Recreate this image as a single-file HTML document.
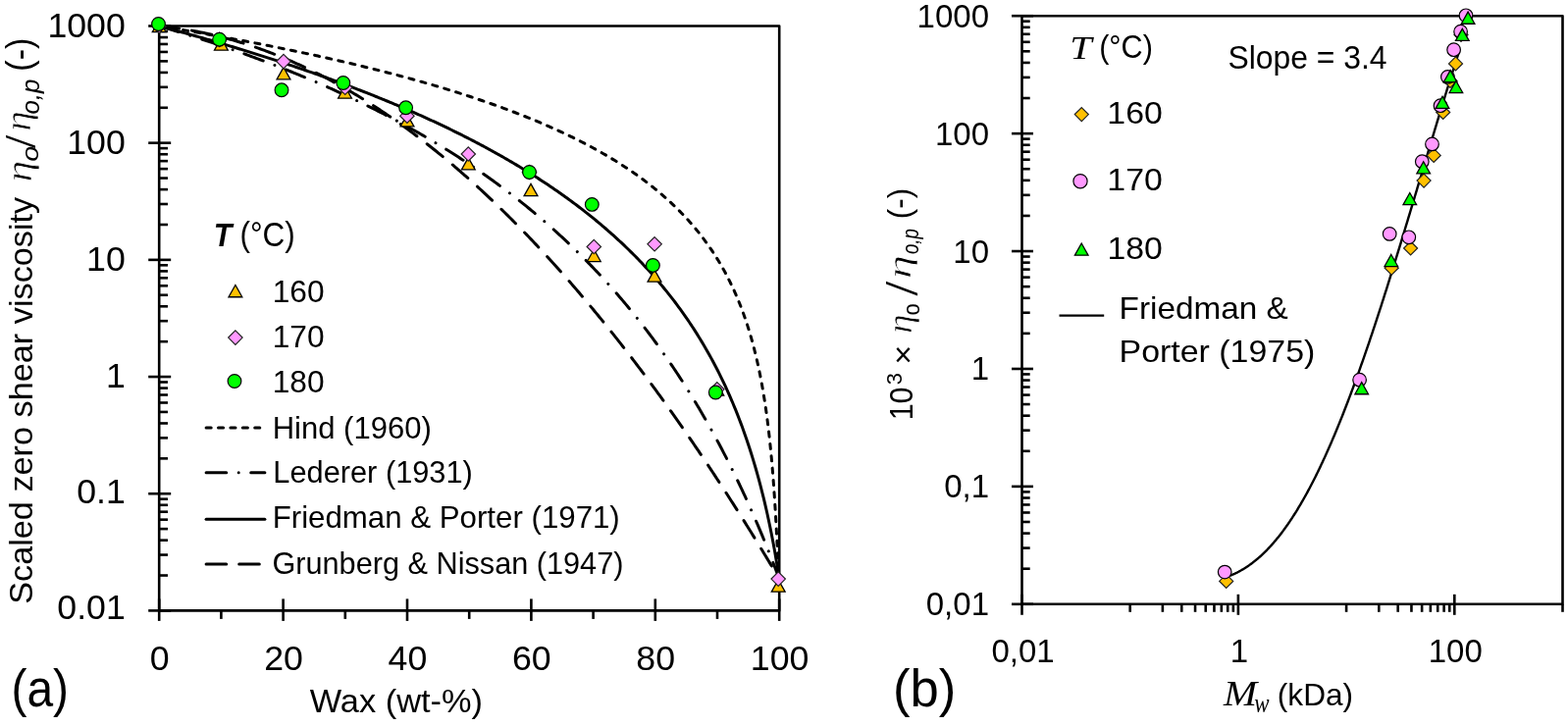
<!DOCTYPE html>
<html><head><meta charset="utf-8"><title>Viscosity plots</title>
<style>html,body{margin:0;padding:0;background:#fff;overflow:hidden} svg{display:block} text{fill:#000}</style>
</head><body>
<svg width="1598" height="740" viewBox="0 0 1598 740">
<rect width="1598" height="740" fill="#fff"/>
<rect x="162.2" y="26.5" width="632.00" height="595.90" fill="none" stroke="#000" stroke-width="2.6" stroke-linejoin="round"/>
<line x1="151.20" y1="622.40" x2="174.20" y2="622.40" stroke="#000" stroke-width="2.6" />
<line x1="162.20" y1="586.52" x2="171.00" y2="586.52" stroke="#000" stroke-width="2.6" />
<line x1="162.20" y1="565.54" x2="171.00" y2="565.54" stroke="#000" stroke-width="2.6" />
<line x1="162.20" y1="550.65" x2="171.00" y2="550.65" stroke="#000" stroke-width="2.6" />
<line x1="162.20" y1="539.10" x2="171.00" y2="539.10" stroke="#000" stroke-width="2.6" />
<line x1="162.20" y1="529.66" x2="171.00" y2="529.66" stroke="#000" stroke-width="2.6" />
<line x1="162.20" y1="521.68" x2="171.00" y2="521.68" stroke="#000" stroke-width="2.6" />
<line x1="162.20" y1="514.77" x2="171.00" y2="514.77" stroke="#000" stroke-width="2.6" />
<line x1="162.20" y1="508.67" x2="171.00" y2="508.67" stroke="#000" stroke-width="2.6" />
<line x1="151.20" y1="503.22" x2="174.20" y2="503.22" stroke="#000" stroke-width="2.6" />
<line x1="162.20" y1="467.34" x2="171.00" y2="467.34" stroke="#000" stroke-width="2.6" />
<line x1="162.20" y1="446.36" x2="171.00" y2="446.36" stroke="#000" stroke-width="2.6" />
<line x1="162.20" y1="431.47" x2="171.00" y2="431.47" stroke="#000" stroke-width="2.6" />
<line x1="162.20" y1="419.92" x2="171.00" y2="419.92" stroke="#000" stroke-width="2.6" />
<line x1="162.20" y1="410.48" x2="171.00" y2="410.48" stroke="#000" stroke-width="2.6" />
<line x1="162.20" y1="402.50" x2="171.00" y2="402.50" stroke="#000" stroke-width="2.6" />
<line x1="162.20" y1="395.59" x2="171.00" y2="395.59" stroke="#000" stroke-width="2.6" />
<line x1="162.20" y1="389.49" x2="171.00" y2="389.49" stroke="#000" stroke-width="2.6" />
<line x1="151.20" y1="384.04" x2="174.20" y2="384.04" stroke="#000" stroke-width="2.6" />
<line x1="162.20" y1="348.16" x2="171.00" y2="348.16" stroke="#000" stroke-width="2.6" />
<line x1="162.20" y1="327.18" x2="171.00" y2="327.18" stroke="#000" stroke-width="2.6" />
<line x1="162.20" y1="312.29" x2="171.00" y2="312.29" stroke="#000" stroke-width="2.6" />
<line x1="162.20" y1="300.74" x2="171.00" y2="300.74" stroke="#000" stroke-width="2.6" />
<line x1="162.20" y1="291.30" x2="171.00" y2="291.30" stroke="#000" stroke-width="2.6" />
<line x1="162.20" y1="283.32" x2="171.00" y2="283.32" stroke="#000" stroke-width="2.6" />
<line x1="162.20" y1="276.41" x2="171.00" y2="276.41" stroke="#000" stroke-width="2.6" />
<line x1="162.20" y1="270.31" x2="171.00" y2="270.31" stroke="#000" stroke-width="2.6" />
<line x1="151.20" y1="264.86" x2="174.20" y2="264.86" stroke="#000" stroke-width="2.6" />
<line x1="162.20" y1="228.98" x2="171.00" y2="228.98" stroke="#000" stroke-width="2.6" />
<line x1="162.20" y1="208.00" x2="171.00" y2="208.00" stroke="#000" stroke-width="2.6" />
<line x1="162.20" y1="193.11" x2="171.00" y2="193.11" stroke="#000" stroke-width="2.6" />
<line x1="162.20" y1="181.56" x2="171.00" y2="181.56" stroke="#000" stroke-width="2.6" />
<line x1="162.20" y1="172.12" x2="171.00" y2="172.12" stroke="#000" stroke-width="2.6" />
<line x1="162.20" y1="164.14" x2="171.00" y2="164.14" stroke="#000" stroke-width="2.6" />
<line x1="162.20" y1="157.23" x2="171.00" y2="157.23" stroke="#000" stroke-width="2.6" />
<line x1="162.20" y1="151.13" x2="171.00" y2="151.13" stroke="#000" stroke-width="2.6" />
<line x1="151.20" y1="145.68" x2="174.20" y2="145.68" stroke="#000" stroke-width="2.6" />
<line x1="162.20" y1="109.80" x2="171.00" y2="109.80" stroke="#000" stroke-width="2.6" />
<line x1="162.20" y1="88.82" x2="171.00" y2="88.82" stroke="#000" stroke-width="2.6" />
<line x1="162.20" y1="73.93" x2="171.00" y2="73.93" stroke="#000" stroke-width="2.6" />
<line x1="162.20" y1="62.38" x2="171.00" y2="62.38" stroke="#000" stroke-width="2.6" />
<line x1="162.20" y1="52.94" x2="171.00" y2="52.94" stroke="#000" stroke-width="2.6" />
<line x1="162.20" y1="44.96" x2="171.00" y2="44.96" stroke="#000" stroke-width="2.6" />
<line x1="162.20" y1="38.05" x2="171.00" y2="38.05" stroke="#000" stroke-width="2.6" />
<line x1="162.20" y1="31.95" x2="171.00" y2="31.95" stroke="#000" stroke-width="2.6" />
<line x1="151.20" y1="26.50" x2="174.20" y2="26.50" stroke="#000" stroke-width="2.6" />
<line x1="162.20" y1="610.40" x2="162.20" y2="632.90" stroke="#000" stroke-width="2.6" />
<line x1="288.60" y1="610.40" x2="288.60" y2="632.90" stroke="#000" stroke-width="2.6" />
<line x1="415.00" y1="610.40" x2="415.00" y2="632.90" stroke="#000" stroke-width="2.6" />
<line x1="541.40" y1="610.40" x2="541.40" y2="632.90" stroke="#000" stroke-width="2.6" />
<line x1="667.80" y1="610.40" x2="667.80" y2="632.90" stroke="#000" stroke-width="2.6" />
<line x1="794.20" y1="610.40" x2="794.20" y2="632.90" stroke="#000" stroke-width="2.6" />
<line x1="225.40" y1="622.40" x2="225.40" y2="630.90" stroke="#000" stroke-width="2.6" />
<line x1="351.80" y1="622.40" x2="351.80" y2="630.90" stroke="#000" stroke-width="2.6" />
<line x1="478.20" y1="622.40" x2="478.20" y2="630.90" stroke="#000" stroke-width="2.6" />
<line x1="604.60" y1="622.40" x2="604.60" y2="630.90" stroke="#000" stroke-width="2.6" />
<line x1="731.00" y1="622.40" x2="731.00" y2="630.90" stroke="#000" stroke-width="2.6" />
<rect x="1041.5" y="16.2" width="551.00" height="599.60" fill="none" stroke="#000" stroke-width="2.6" stroke-linejoin="round"/>
<line x1="1031.00" y1="615.80" x2="1053.00" y2="615.80" stroke="#000" stroke-width="2.6" />
<line x1="1041.50" y1="579.70" x2="1049.70" y2="579.70" stroke="#000" stroke-width="2.6" />
<line x1="1041.50" y1="558.58" x2="1049.70" y2="558.58" stroke="#000" stroke-width="2.6" />
<line x1="1041.50" y1="543.60" x2="1049.70" y2="543.60" stroke="#000" stroke-width="2.6" />
<line x1="1041.50" y1="531.98" x2="1049.70" y2="531.98" stroke="#000" stroke-width="2.6" />
<line x1="1041.50" y1="522.48" x2="1049.70" y2="522.48" stroke="#000" stroke-width="2.6" />
<line x1="1041.50" y1="514.46" x2="1049.70" y2="514.46" stroke="#000" stroke-width="2.6" />
<line x1="1041.50" y1="507.50" x2="1049.70" y2="507.50" stroke="#000" stroke-width="2.6" />
<line x1="1041.50" y1="501.37" x2="1049.70" y2="501.37" stroke="#000" stroke-width="2.6" />
<line x1="1031.00" y1="495.88" x2="1053.00" y2="495.88" stroke="#000" stroke-width="2.6" />
<line x1="1041.50" y1="459.78" x2="1049.70" y2="459.78" stroke="#000" stroke-width="2.6" />
<line x1="1041.50" y1="438.66" x2="1049.70" y2="438.66" stroke="#000" stroke-width="2.6" />
<line x1="1041.50" y1="423.68" x2="1049.70" y2="423.68" stroke="#000" stroke-width="2.6" />
<line x1="1041.50" y1="412.06" x2="1049.70" y2="412.06" stroke="#000" stroke-width="2.6" />
<line x1="1041.50" y1="402.56" x2="1049.70" y2="402.56" stroke="#000" stroke-width="2.6" />
<line x1="1041.50" y1="394.54" x2="1049.70" y2="394.54" stroke="#000" stroke-width="2.6" />
<line x1="1041.50" y1="387.58" x2="1049.70" y2="387.58" stroke="#000" stroke-width="2.6" />
<line x1="1041.50" y1="381.45" x2="1049.70" y2="381.45" stroke="#000" stroke-width="2.6" />
<line x1="1031.00" y1="375.96" x2="1053.00" y2="375.96" stroke="#000" stroke-width="2.6" />
<line x1="1041.50" y1="339.86" x2="1049.70" y2="339.86" stroke="#000" stroke-width="2.6" />
<line x1="1041.50" y1="318.74" x2="1049.70" y2="318.74" stroke="#000" stroke-width="2.6" />
<line x1="1041.50" y1="303.76" x2="1049.70" y2="303.76" stroke="#000" stroke-width="2.6" />
<line x1="1041.50" y1="292.14" x2="1049.70" y2="292.14" stroke="#000" stroke-width="2.6" />
<line x1="1041.50" y1="282.64" x2="1049.70" y2="282.64" stroke="#000" stroke-width="2.6" />
<line x1="1041.50" y1="274.62" x2="1049.70" y2="274.62" stroke="#000" stroke-width="2.6" />
<line x1="1041.50" y1="267.66" x2="1049.70" y2="267.66" stroke="#000" stroke-width="2.6" />
<line x1="1041.50" y1="261.53" x2="1049.70" y2="261.53" stroke="#000" stroke-width="2.6" />
<line x1="1031.00" y1="256.04" x2="1053.00" y2="256.04" stroke="#000" stroke-width="2.6" />
<line x1="1041.50" y1="219.94" x2="1049.70" y2="219.94" stroke="#000" stroke-width="2.6" />
<line x1="1041.50" y1="198.82" x2="1049.70" y2="198.82" stroke="#000" stroke-width="2.6" />
<line x1="1041.50" y1="183.84" x2="1049.70" y2="183.84" stroke="#000" stroke-width="2.6" />
<line x1="1041.50" y1="172.22" x2="1049.70" y2="172.22" stroke="#000" stroke-width="2.6" />
<line x1="1041.50" y1="162.72" x2="1049.70" y2="162.72" stroke="#000" stroke-width="2.6" />
<line x1="1041.50" y1="154.70" x2="1049.70" y2="154.70" stroke="#000" stroke-width="2.6" />
<line x1="1041.50" y1="147.74" x2="1049.70" y2="147.74" stroke="#000" stroke-width="2.6" />
<line x1="1041.50" y1="141.61" x2="1049.70" y2="141.61" stroke="#000" stroke-width="2.6" />
<line x1="1031.00" y1="136.12" x2="1053.00" y2="136.12" stroke="#000" stroke-width="2.6" />
<line x1="1041.50" y1="100.02" x2="1049.70" y2="100.02" stroke="#000" stroke-width="2.6" />
<line x1="1041.50" y1="78.90" x2="1049.70" y2="78.90" stroke="#000" stroke-width="2.6" />
<line x1="1041.50" y1="63.92" x2="1049.70" y2="63.92" stroke="#000" stroke-width="2.6" />
<line x1="1041.50" y1="52.30" x2="1049.70" y2="52.30" stroke="#000" stroke-width="2.6" />
<line x1="1041.50" y1="42.80" x2="1049.70" y2="42.80" stroke="#000" stroke-width="2.6" />
<line x1="1041.50" y1="34.78" x2="1049.70" y2="34.78" stroke="#000" stroke-width="2.6" />
<line x1="1041.50" y1="27.82" x2="1049.70" y2="27.82" stroke="#000" stroke-width="2.6" />
<line x1="1041.50" y1="21.69" x2="1049.70" y2="21.69" stroke="#000" stroke-width="2.6" />
<line x1="1031.00" y1="16.20" x2="1053.00" y2="16.20" stroke="#000" stroke-width="2.6" />
<line x1="1041.50" y1="605.80" x2="1041.50" y2="626.80" stroke="#000" stroke-width="2.6" />
<line x1="1261.90" y1="605.80" x2="1261.90" y2="626.80" stroke="#000" stroke-width="2.6" />
<line x1="1482.30" y1="605.80" x2="1482.30" y2="626.80" stroke="#000" stroke-width="2.6" />
<line x1="1151.70" y1="615.80" x2="1151.70" y2="623.80" stroke="#000" stroke-width="2.6" />
<line x1="1184.87" y1="615.80" x2="1184.87" y2="623.80" stroke="#000" stroke-width="2.6" />
<line x1="1204.28" y1="615.80" x2="1204.28" y2="623.80" stroke="#000" stroke-width="2.6" />
<line x1="1218.05" y1="615.80" x2="1218.05" y2="623.80" stroke="#000" stroke-width="2.6" />
<line x1="1228.73" y1="615.80" x2="1228.73" y2="623.80" stroke="#000" stroke-width="2.6" />
<line x1="1237.45" y1="615.80" x2="1237.45" y2="623.80" stroke="#000" stroke-width="2.6" />
<line x1="1244.83" y1="615.80" x2="1244.83" y2="623.80" stroke="#000" stroke-width="2.6" />
<line x1="1251.22" y1="615.80" x2="1251.22" y2="623.80" stroke="#000" stroke-width="2.6" />
<line x1="1256.86" y1="615.80" x2="1256.86" y2="623.80" stroke="#000" stroke-width="2.6" />
<line x1="1372.10" y1="615.80" x2="1372.10" y2="623.80" stroke="#000" stroke-width="2.6" />
<line x1="1405.27" y1="615.80" x2="1405.27" y2="623.80" stroke="#000" stroke-width="2.6" />
<line x1="1424.68" y1="615.80" x2="1424.68" y2="623.80" stroke="#000" stroke-width="2.6" />
<line x1="1438.45" y1="615.80" x2="1438.45" y2="623.80" stroke="#000" stroke-width="2.6" />
<line x1="1449.13" y1="615.80" x2="1449.13" y2="623.80" stroke="#000" stroke-width="2.6" />
<line x1="1457.85" y1="615.80" x2="1457.85" y2="623.80" stroke="#000" stroke-width="2.6" />
<line x1="1465.23" y1="615.80" x2="1465.23" y2="623.80" stroke="#000" stroke-width="2.6" />
<line x1="1471.62" y1="615.80" x2="1471.62" y2="623.80" stroke="#000" stroke-width="2.6" />
<line x1="1477.26" y1="615.80" x2="1477.26" y2="623.80" stroke="#000" stroke-width="2.6" />
<line x1="1592.50" y1="615.80" x2="1592.50" y2="623.80" stroke="#000" stroke-width="2.6" />
<path d="M162.20,26.50 L165.36,27.02 L168.50,27.54 L171.64,28.06 L174.78,28.58 L177.90,29.10 L181.02,29.63 L184.13,30.15 L187.23,30.68 L190.32,31.21 L193.41,31.74 L196.48,32.27 L199.55,32.80 L202.61,33.33 L205.67,33.87 L208.71,34.40 L211.75,34.94 L214.78,35.48 L217.80,36.02 L220.81,36.56 L223.82,37.11 L226.82,37.65 L229.81,38.20 L232.79,38.75 L235.76,39.30 L238.73,39.85 L241.69,40.40 L244.64,40.95 L247.58,41.51 L250.52,42.07 L253.44,42.62 L256.36,43.18 L259.28,43.74 L262.18,44.31 L265.07,44.87 L267.96,45.44 L270.84,46.00 L273.71,46.57 L276.58,47.14 L279.43,47.72 L282.28,48.29 L285.12,48.86 L287.95,49.44 L290.78,50.02 L293.59,50.60 L296.40,51.18 L299.20,51.76 L301.99,52.35 L304.78,52.94 L307.56,53.52 L310.32,54.11 L313.09,54.71 L315.84,55.30 L318.58,55.89 L321.32,56.49 L324.05,57.09 L326.77,57.69 L329.49,58.29 L332.19,58.89 L334.89,59.50 L337.58,60.11 L340.26,60.72 L342.94,61.33 L345.60,61.94 L348.26,62.55 L350.91,63.17 L353.55,63.79 L356.19,64.41 L358.82,65.03 L361.43,65.65 L364.05,66.28 L366.65,66.91 L369.24,67.54 L371.83,68.17 L374.41,68.80 L376.98,69.44 L379.54,70.07 L382.10,70.71 L384.65,71.35 L387.19,72.00 L389.72,72.64 L392.24,73.29 L394.76,73.94 L397.27,74.59 L399.77,75.24 L402.26,75.90 L404.75,76.55 L407.22,77.21 L409.69,77.87 L412.15,78.54 L414.60,79.20 L417.05,79.87 L419.49,80.54 L421.92,81.21 L424.34,81.89 L426.75,82.56 L429.16,83.24 L431.55,83.92 L433.94,84.61 L436.33,85.29 L438.70,85.98 L441.07,86.67 L443.42,87.36 L445.77,88.06 L448.12,88.75 L450.45,89.45 L452.78,90.15 L455.10,90.86 L457.41,91.57 L459.71,92.27 L462.00,92.99 L464.29,93.70 L466.57,94.42 L468.84,95.13 L471.11,95.86 L473.36,96.58 L475.61,97.31 L477.85,98.03 L480.08,98.77 L482.30,99.50 L484.52,100.24 L486.73,100.98 L488.93,101.72 L491.12,102.46 L493.30,103.21 L495.48,103.96 L497.65,104.71 L499.81,105.47 L501.96,106.22 L504.11,106.99 L506.24,107.75 L508.37,108.52 L510.50,109.29 L512.61,110.06 L514.71,110.83 L516.81,111.61 L518.90,112.39 L520.98,113.18 L523.06,113.96 L525.12,114.75 L527.18,115.54 L529.23,116.34 L531.27,117.14 L533.31,117.94 L535.33,118.75 L537.35,119.56 L539.36,120.37 L541.36,121.18 L543.36,122.00 L545.35,122.82 L547.33,123.64 L549.30,124.47 L551.26,125.30 L553.21,126.14 L555.16,126.97 L557.10,127.82 L559.03,128.66 L560.96,129.51 L562.87,130.36 L564.78,131.21 L566.68,132.07 L568.57,132.93 L570.46,133.80 L572.33,134.67 L574.20,135.54 L576.06,136.42 L577.91,137.30 L579.76,138.18 L581.60,139.07 L583.42,139.96 L585.25,140.86 L587.06,141.76 L588.86,142.66 L590.66,143.57 L592.45,144.48 L594.23,145.39 L596.00,146.31 L597.77,147.24 L599.53,148.16 L601.28,149.10 L603.02,150.03 L604.75,150.97 L606.48,151.92 L608.20,152.86 L609.91,153.82 L611.61,154.77 L613.31,155.74 L614.99,156.70 L616.67,157.67 L618.34,158.65 L620.00,159.63 L621.66,160.61 L623.31,161.60 L624.95,162.60 L626.58,163.59 L628.20,164.60 L629.82,165.61 L631.42,166.62 L633.02,167.64 L634.62,168.66 L636.20,169.69 L637.78,170.72 L639.34,171.76 L640.90,172.80 L642.46,173.85 L644.00,174.91 L645.54,175.97 L647.07,177.03 L648.59,178.10 L650.10,179.18 L651.61,180.26 L653.10,181.35 L654.59,182.44 L656.07,183.54 L657.55,184.65 L659.01,185.76 L660.47,186.87 L661.92,188.00 L663.36,189.12 L664.79,190.26 L666.22,191.40 L667.64,192.55 L669.05,193.70 L670.45,194.86 L671.84,196.03 L673.23,197.20 L674.61,198.38 L675.98,199.57 L677.34,200.76 L678.70,201.96 L680.05,203.17 L681.38,204.38 L682.72,205.60 L684.04,206.83 L685.35,208.07 L686.66,209.31 L687.96,210.56 L689.25,211.82 L690.54,213.08 L691.81,214.36 L693.08,215.64 L694.34,216.93 L695.59,218.23 L696.84,219.53 L698.07,220.84 L699.30,222.17 L700.52,223.50 L701.73,224.83 L702.94,226.18 L704.14,227.54 L705.33,228.90 L706.51,230.28 L707.68,231.66 L708.84,233.05 L710.00,234.45 L711.15,235.87 L712.29,237.29 L713.43,238.72 L714.55,240.16 L715.67,241.61 L716.78,243.07 L717.88,244.54 L718.98,246.02 L720.06,247.51 L721.14,249.01 L722.21,250.52 L723.27,252.05 L724.33,253.58 L725.38,255.13 L726.41,256.69 L727.44,258.26 L728.47,259.84 L729.48,261.43 L730.49,263.04 L731.49,264.66 L732.48,266.29 L733.46,267.93 L734.44,269.59 L735.41,271.25 L736.37,272.94 L737.32,274.63 L738.26,276.34 L739.20,278.07 L740.13,279.81 L741.05,281.56 L741.96,283.33 L742.87,285.11 L743.76,286.90 L744.65,288.72 L745.53,290.55 L746.40,292.39 L747.27,294.25 L748.13,296.13 L748.98,298.02 L749.82,299.93 L750.65,301.86 L751.48,303.81 L752.29,305.77 L753.10,307.75 L753.91,309.75 L754.70,311.77 L755.49,313.81 L756.26,315.87 L757.03,317.95 L757.80,320.05 L758.55,322.17 L759.30,324.31 L760.04,326.47 L760.77,328.66 L761.49,330.86 L762.20,333.09 L762.91,335.35 L763.61,337.63 L764.30,339.93 L764.99,342.25 L765.66,344.60 L766.33,346.98 L766.99,349.38 L767.64,351.81 L768.28,354.27 L768.92,356.76 L769.55,359.27 L770.17,361.81 L770.78,364.39 L771.38,366.99 L771.98,369.62 L772.57,372.29 L773.15,374.99 L773.72,377.72 L774.29,380.48 L774.85,383.28 L775.39,386.11 L775.94,388.98 L776.47,391.89 L776.99,394.83 L777.51,397.81 L778.02,400.83 L778.52,403.89 L779.02,406.99 L779.50,410.13 L779.98,413.31 L780.45,416.53 L780.91,419.80 L781.37,423.11 L781.81,426.47 L782.25,429.87 L782.68,433.32 L783.10,436.81 L783.52,440.35 L783.93,443.94 L784.33,447.57 L784.72,451.26 L785.10,454.99 L785.47,458.77 L785.84,462.60 L786.20,466.47 L786.55,470.39 L786.90,474.35 L787.23,478.36 L787.56,482.41 L787.88,486.50 L788.19,490.63 L788.50,494.78 L788.79,498.97 L789.08,503.18 L789.36,507.41 L789.63,511.65 L789.90,515.89 L790.16,520.12 L790.40,524.34 L790.64,528.54 L790.88,532.69 L791.10,536.79 L791.32,540.82 L791.53,544.77 L791.73,548.62 L791.92,552.36 L792.11,555.96 L792.29,559.41 L792.46,562.70 L792.62,565.81 L792.77,568.72 L792.92,571.44 L793.06,573.95 L793.19,576.24 L793.31,578.32 L793.43,580.19 L793.53,581.86 L793.63,583.33 L793.72,584.61 L793.81,585.71 L793.88,586.65 L793.95,587.45 L794.01,588.11 L794.06,588.66 L794.10,589.09 L794.14,589.43 L794.16,589.69 L794.18,589.86 L794.20,589.97 L794.20,590.00" fill="none" stroke="#000" stroke-width="3.0" stroke-dasharray="5.1 7.3" stroke-linecap="round"/><path d="M162.20,26.50 L163.78,26.97 L165.36,27.44 L166.94,27.92 L168.52,28.39 L170.10,28.87 L171.68,29.35 L173.26,29.83 L174.84,30.31 L176.42,30.79 L178.00,31.28 L179.58,31.76 L181.16,32.25 L182.74,32.74 L184.32,33.23 L185.90,33.72 L187.48,34.22 L189.06,34.72 L190.64,35.21 L192.22,35.71 L193.80,36.22 L195.38,36.72 L196.96,37.22 L198.54,37.73 L200.12,38.24 L201.70,38.75 L203.28,39.26 L204.86,39.78 L206.44,40.29 L208.02,40.81 L209.60,41.33 L211.18,41.85 L212.76,42.37 L214.34,42.90 L215.92,43.42 L217.50,43.95 L219.08,44.48 L220.66,45.02 L222.24,45.55 L223.82,46.09 L225.40,46.63 L226.98,47.17 L228.56,47.71 L230.14,48.25 L231.72,48.80 L233.30,49.34 L234.88,49.89 L236.46,50.45 L238.04,51.00 L239.62,51.56 L241.20,52.11 L242.78,52.67 L244.36,53.24 L245.94,53.80 L247.52,54.37 L249.10,54.93 L250.68,55.50 L252.26,56.08 L253.84,56.65 L255.42,57.23 L257.00,57.81 L258.58,58.39 L260.16,58.97 L261.74,59.55 L263.32,60.14 L264.90,60.73 L266.48,61.32 L268.06,61.92 L269.64,62.51 L271.22,63.11 L272.80,63.71 L274.38,64.32 L275.96,64.92 L277.54,65.53 L279.12,66.14 L280.70,66.75 L282.28,67.36 L283.86,67.98 L285.44,68.60 L287.02,69.22 L288.60,69.85 L290.18,70.47 L291.76,71.10 L293.34,71.73 L294.92,72.37 L296.50,73.00 L298.08,73.64 L299.66,74.28 L301.24,74.93 L302.82,75.57 L304.40,76.22 L305.98,76.87 L307.56,77.53 L309.14,78.18 L310.72,78.84 L312.30,79.50 L313.88,80.17 L315.46,80.83 L317.04,81.50 L318.62,82.18 L320.20,82.85 L321.78,83.53 L323.36,84.21 L324.94,84.89 L326.52,85.58 L328.10,86.27 L329.68,86.96 L331.26,87.65 L332.84,88.35 L334.42,89.05 L336.00,89.75 L337.58,90.46 L339.16,91.16 L340.74,91.88 L342.32,92.59 L343.90,93.31 L345.48,94.03 L347.06,94.75 L348.64,95.48 L350.22,96.21 L351.80,96.94 L353.38,97.67 L354.96,98.41 L356.54,99.15 L358.12,99.90 L359.70,100.64 L361.28,101.40 L362.86,102.15 L364.44,102.91 L366.02,103.67 L367.60,104.43 L369.18,105.20 L370.76,105.97 L372.34,106.74 L373.92,107.52 L375.50,108.30 L377.08,109.08 L378.66,109.87 L380.24,110.66 L381.82,111.45 L383.40,112.25 L384.98,113.05 L386.56,113.86 L388.14,114.66 L389.72,115.47 L391.30,116.29 L392.88,117.11 L394.46,117.93 L396.04,118.75 L397.62,119.58 L399.20,120.42 L400.78,121.25 L402.36,122.09 L403.94,122.94 L405.52,123.79 L407.10,124.64 L408.68,125.49 L410.26,126.35 L411.84,127.22 L413.42,128.08 L415.00,128.95 L416.58,129.83 L418.16,130.71 L419.74,131.59 L421.32,132.48 L422.90,133.37 L424.48,134.27 L426.06,135.17 L427.64,136.07 L429.22,136.98 L430.80,137.89 L432.38,138.81 L433.96,139.73 L435.54,140.65 L437.12,141.58 L438.70,142.52 L440.28,143.45 L441.86,144.40 L443.44,145.34 L445.02,146.29 L446.60,147.25 L448.18,148.21 L449.76,149.18 L451.34,150.15 L452.92,151.12 L454.50,152.10 L456.08,153.08 L457.66,154.07 L459.24,155.07 L460.82,156.06 L462.40,157.07 L463.98,158.08 L465.56,159.09 L467.14,160.11 L468.72,161.13 L470.30,162.16 L471.88,163.19 L473.46,164.23 L475.04,165.27 L476.62,166.32 L478.20,167.38 L479.78,168.43 L481.36,169.50 L482.94,170.57 L484.52,171.64 L486.10,172.73 L487.68,173.81 L489.26,174.90 L490.84,176.00 L492.42,177.10 L494.00,178.21 L495.58,179.33 L497.16,180.45 L498.74,181.57 L500.32,182.70 L501.90,183.84 L503.48,184.98 L505.06,186.13 L506.64,187.29 L508.22,188.45 L509.80,189.62 L511.38,190.79 L512.96,191.97 L514.54,193.16 L516.12,194.35 L517.70,195.55 L519.28,196.76 L520.86,197.97 L522.44,199.19 L524.02,200.41 L525.60,201.64 L527.18,202.88 L528.76,204.13 L530.34,205.38 L531.92,206.64 L533.50,207.90 L535.08,209.17 L536.66,210.45 L538.24,211.74 L539.82,213.03 L541.40,214.33 L542.98,215.64 L544.56,216.96 L546.14,218.28 L547.72,219.61 L549.30,220.95 L550.88,222.29 L552.46,223.65 L554.04,225.01 L555.62,226.37 L557.20,227.75 L558.78,229.13 L560.36,230.53 L561.94,231.93 L563.52,233.33 L565.10,234.75 L566.68,236.18 L568.26,237.61 L569.84,239.05 L571.42,240.50 L573.00,241.96 L574.58,243.42 L576.16,244.90 L577.74,246.38 L579.32,247.88 L580.90,249.38 L582.48,250.89 L584.06,252.41 L585.64,253.94 L587.22,255.48 L588.80,257.02 L590.38,258.58 L591.96,260.15 L593.54,261.72 L595.12,263.31 L596.70,264.90 L598.28,266.51 L599.86,268.13 L601.44,269.75 L603.02,271.39 L604.60,273.03 L606.18,274.69 L607.76,276.35 L609.34,278.03 L610.92,279.72 L612.50,281.42 L614.08,283.13 L615.66,284.85 L617.24,286.58 L618.82,288.32 L620.40,290.07 L621.98,291.84 L623.56,293.61 L625.14,295.40 L626.72,297.20 L628.30,299.01 L629.88,300.84 L631.46,302.67 L633.04,304.52 L634.62,306.38 L636.20,308.25 L637.78,310.14 L639.36,312.03 L640.94,313.94 L642.52,315.87 L644.10,317.80 L645.68,319.75 L647.26,321.71 L648.84,323.69 L650.42,325.68 L652.00,327.68 L653.58,329.70 L655.16,331.73 L656.74,333.78 L658.32,335.83 L659.90,337.91 L661.48,340.00 L663.06,342.10 L664.64,344.22 L666.22,346.35 L667.80,348.50 L669.38,350.67 L670.96,352.84 L672.54,355.04 L674.12,357.25 L675.70,359.48 L677.28,361.72 L678.86,363.98 L680.44,366.26 L682.02,368.55 L683.60,370.86 L685.18,373.19 L686.76,375.53 L688.34,377.90 L689.92,380.28 L691.50,382.68 L693.08,385.09 L694.66,387.53 L696.24,389.98 L697.82,392.45 L699.40,394.94 L700.98,397.45 L702.56,399.98 L704.14,402.53 L705.72,405.10 L707.30,407.69 L708.88,410.30 L710.46,412.93 L712.04,415.58 L713.62,418.26 L715.20,420.95 L716.78,423.67 L718.36,426.40 L719.94,429.16 L721.52,431.95 L723.10,434.75 L724.68,437.58 L726.26,440.43 L727.84,443.31 L729.42,446.20 L731.00,449.13 L732.58,452.07 L734.16,455.05 L735.74,458.04 L737.32,461.07 L738.90,464.11 L740.48,467.19 L742.06,470.29 L743.64,473.42 L745.22,476.57 L746.80,479.75 L748.38,482.96 L749.96,486.20 L751.54,489.47 L753.12,492.76 L754.70,496.08 L756.28,499.44 L757.86,502.82 L759.44,506.24 L761.02,509.68 L762.60,513.16 L764.18,516.67 L765.76,520.21 L767.34,523.78 L768.92,527.39 L770.50,531.03 L772.08,534.71 L773.66,538.41 L775.24,542.16 L776.82,545.94 L778.40,549.75 L779.98,553.60 L781.56,557.49 L783.14,561.42 L784.72,565.38 L786.30,569.39 L787.88,573.43 L789.46,577.51 L791.04,581.63 L792.62,585.80 L794.20,590.00" fill="none" stroke="#000" stroke-width="3.0" stroke-dasharray="20.6 12.5 0.01 12.5" stroke-linecap="round"/><path d="M162.20,26.50 L163.78,26.92 L165.36,27.35 L166.94,27.77 L168.52,28.20 L170.10,28.62 L171.68,29.05 L173.26,29.48 L174.84,29.91 L176.42,30.34 L178.00,30.77 L179.58,31.20 L181.16,31.64 L182.74,32.07 L184.32,32.51 L185.90,32.95 L187.48,33.39 L189.06,33.83 L190.64,34.27 L192.22,34.71 L193.80,35.15 L195.38,35.59 L196.96,36.04 L198.54,36.49 L200.12,36.93 L201.70,37.38 L203.28,37.83 L204.86,38.28 L206.44,38.73 L208.02,39.19 L209.60,39.64 L211.18,40.10 L212.76,40.55 L214.34,41.01 L215.92,41.47 L217.50,41.93 L219.08,42.39 L220.66,42.85 L222.24,43.32 L223.82,43.78 L225.40,44.25 L226.98,44.72 L228.56,45.18 L230.14,45.65 L231.72,46.13 L233.30,46.60 L234.88,47.07 L236.46,47.55 L238.04,48.02 L239.62,48.50 L241.20,48.98 L242.78,49.46 L244.36,49.94 L245.94,50.42 L247.52,50.91 L249.10,51.39 L250.68,51.88 L252.26,52.37 L253.84,52.86 L255.42,53.35 L257.00,53.84 L258.58,54.34 L260.16,54.83 L261.74,55.33 L263.32,55.82 L264.90,56.32 L266.48,56.82 L268.06,57.33 L269.64,57.83 L271.22,58.34 L272.80,58.84 L274.38,59.35 L275.96,59.86 L277.54,60.37 L279.12,60.88 L280.70,61.40 L282.28,61.91 L283.86,62.43 L285.44,62.95 L287.02,63.47 L288.60,63.99 L290.18,64.51 L291.76,65.04 L293.34,65.56 L294.92,66.09 L296.50,66.62 L298.08,67.15 L299.66,67.68 L301.24,68.22 L302.82,68.75 L304.40,69.29 L305.98,69.83 L307.56,70.37 L309.14,70.91 L310.72,71.46 L312.30,72.00 L313.88,72.55 L315.46,73.10 L317.04,73.65 L318.62,74.20 L320.20,74.76 L321.78,75.31 L323.36,75.87 L324.94,76.43 L326.52,76.99 L328.10,77.55 L329.68,78.12 L331.26,78.69 L332.84,79.26 L334.42,79.83 L336.00,80.40 L337.58,80.97 L339.16,81.55 L340.74,82.13 L342.32,82.71 L343.90,83.29 L345.48,83.87 L347.06,84.46 L348.64,85.05 L350.22,85.63 L351.80,86.23 L353.38,86.82 L354.96,87.42 L356.54,88.01 L358.12,88.61 L359.70,89.21 L361.28,89.82 L362.86,90.42 L364.44,91.03 L366.02,91.64 L367.60,92.25 L369.18,92.87 L370.76,93.49 L372.34,94.10 L373.92,94.73 L375.50,95.35 L377.08,95.97 L378.66,96.60 L380.24,97.23 L381.82,97.86 L383.40,98.50 L384.98,99.13 L386.56,99.77 L388.14,100.41 L389.72,101.06 L391.30,101.70 L392.88,102.35 L394.46,103.00 L396.04,103.65 L397.62,104.31 L399.20,104.97 L400.78,105.63 L402.36,106.29 L403.94,106.96 L405.52,107.63 L407.10,108.30 L408.68,108.97 L410.26,109.64 L411.84,110.32 L413.42,111.00 L415.00,111.69 L416.58,112.37 L418.16,113.06 L419.74,113.75 L421.32,114.45 L422.90,115.14 L424.48,115.84 L426.06,116.55 L427.64,117.25 L429.22,117.96 L430.80,118.67 L432.38,119.39 L433.96,120.10 L435.54,120.82 L437.12,121.55 L438.70,122.27 L440.28,123.00 L441.86,123.73 L443.44,124.47 L445.02,125.21 L446.60,125.95 L448.18,126.69 L449.76,127.44 L451.34,128.19 L452.92,128.94 L454.50,129.70 L456.08,130.46 L457.66,131.22 L459.24,131.99 L460.82,132.76 L462.40,133.53 L463.98,134.31 L465.56,135.09 L467.14,135.88 L468.72,136.66 L470.30,137.45 L471.88,138.25 L473.46,139.05 L475.04,139.85 L476.62,140.65 L478.20,141.46 L479.78,142.28 L481.36,143.09 L482.94,143.91 L484.52,144.74 L486.10,145.57 L487.68,146.40 L489.26,147.24 L490.84,148.08 L492.42,148.92 L494.00,149.77 L495.58,150.62 L497.16,151.48 L498.74,152.34 L500.32,153.20 L501.90,154.07 L503.48,154.95 L505.06,155.82 L506.64,156.71 L508.22,157.59 L509.80,158.48 L511.38,159.38 L512.96,160.28 L514.54,161.18 L516.12,162.09 L517.70,163.01 L519.28,163.93 L520.86,164.85 L522.44,165.78 L524.02,166.71 L525.60,167.65 L527.18,168.60 L528.76,169.55 L530.34,170.50 L531.92,171.46 L533.50,172.42 L535.08,173.39 L536.66,174.37 L538.24,175.35 L539.82,176.34 L541.40,177.33 L542.98,178.32 L544.56,179.33 L546.14,180.34 L547.72,181.35 L549.30,182.37 L550.88,183.40 L552.46,184.43 L554.04,185.47 L555.62,186.51 L557.20,187.56 L558.78,188.62 L560.36,189.68 L561.94,190.75 L563.52,191.83 L565.10,192.91 L566.68,194.00 L568.26,195.10 L569.84,196.20 L571.42,197.32 L573.00,198.43 L574.58,199.56 L576.16,200.69 L577.74,201.83 L579.32,202.98 L580.90,204.13 L582.48,205.29 L584.06,206.46 L585.64,207.64 L587.22,208.82 L588.80,210.02 L590.38,211.22 L591.96,212.43 L593.54,213.65 L595.12,214.87 L596.70,216.11 L598.28,217.35 L599.86,218.61 L601.44,219.87 L603.02,221.14 L604.60,222.42 L606.18,223.71 L607.76,225.01 L609.34,226.32 L610.92,227.64 L612.50,228.96 L614.08,230.30 L615.66,231.65 L617.24,233.01 L618.82,234.38 L620.40,235.76 L621.98,237.15 L623.56,238.56 L625.14,239.97 L626.72,241.39 L628.30,242.83 L629.88,244.28 L631.46,245.74 L633.04,247.21 L634.62,248.70 L636.20,250.20 L637.78,251.71 L639.36,253.23 L640.94,254.77 L642.52,256.32 L644.10,257.89 L645.68,259.47 L647.26,261.06 L648.84,262.67 L650.42,264.29 L652.00,265.93 L653.58,267.58 L655.16,269.25 L656.74,270.93 L658.32,272.63 L659.90,274.35 L661.48,276.09 L663.06,277.84 L664.64,279.61 L666.22,281.39 L667.80,283.20 L669.38,285.03 L670.96,286.87 L672.54,288.73 L674.12,290.61 L675.70,292.52 L677.28,294.44 L678.86,296.39 L680.44,298.35 L682.02,300.34 L683.60,302.36 L685.18,304.39 L686.76,306.45 L688.34,308.53 L689.92,310.64 L691.50,312.78 L693.08,314.94 L694.66,317.12 L696.24,319.34 L697.82,321.58 L699.40,323.85 L700.98,326.16 L702.56,328.49 L704.14,330.85 L705.72,333.25 L707.30,335.68 L708.88,338.14 L710.46,340.64 L712.04,343.17 L713.62,345.74 L715.20,348.35 L716.78,351.00 L718.36,353.68 L719.94,356.41 L721.52,359.19 L723.10,362.01 L724.68,364.87 L726.26,367.78 L727.84,370.74 L729.42,373.75 L731.00,376.81 L732.58,379.93 L734.16,383.10 L735.74,386.33 L737.32,389.63 L738.90,392.98 L740.48,396.40 L742.06,399.89 L743.64,403.45 L745.22,407.08 L746.80,410.78 L748.38,414.57 L749.96,418.44 L751.54,422.40 L753.12,426.45 L754.70,430.60 L756.28,434.84 L757.86,439.19 L759.44,443.65 L761.02,448.23 L762.60,452.92 L764.18,457.75 L765.76,462.71 L767.34,467.82 L768.92,473.08 L770.50,478.50 L772.08,484.10 L773.66,489.87 L775.24,495.85 L776.82,502.03 L778.40,508.44 L779.98,515.09 L781.56,522.00 L783.14,529.20 L784.72,536.70 L786.30,544.54 L787.88,552.74 L789.46,561.34 L791.04,570.39 L792.62,579.92 L794.20,590.00" fill="none" stroke="#000" stroke-width="3.0"/><path d="M162.20,26.50 L163.78,26.66 L165.36,26.82 L166.94,26.99 L168.52,27.16 L170.10,27.35 L171.68,27.53 L173.26,27.73 L174.84,27.93 L176.42,28.14 L178.00,28.35 L179.58,28.57 L181.16,28.79 L182.74,29.03 L184.32,29.27 L185.90,29.51 L187.48,29.76 L189.06,30.02 L190.64,30.28 L192.22,30.55 L193.80,30.83 L195.38,31.11 L196.96,31.40 L198.54,31.69 L200.12,31.99 L201.70,32.30 L203.28,32.61 L204.86,32.93 L206.44,33.26 L208.02,33.59 L209.60,33.93 L211.18,34.28 L212.76,34.63 L214.34,34.99 L215.92,35.35 L217.50,35.72 L219.08,36.10 L220.66,36.48 L222.24,36.87 L223.82,37.26 L225.40,37.66 L226.98,38.07 L228.56,38.49 L230.14,38.91 L231.72,39.33 L233.30,39.77 L234.88,40.21 L236.46,40.65 L238.04,41.10 L239.62,41.56 L241.20,42.02 L242.78,42.49 L244.36,42.97 L245.94,43.45 L247.52,43.94 L249.10,44.44 L250.68,44.94 L252.26,45.45 L253.84,45.96 L255.42,46.49 L257.00,47.01 L258.58,47.55 L260.16,48.08 L261.74,48.63 L263.32,49.18 L264.90,49.74 L266.48,50.31 L268.06,50.88 L269.64,51.45 L271.22,52.04 L272.80,52.63 L274.38,53.22 L275.96,53.83 L277.54,54.43 L279.12,55.05 L280.70,55.67 L282.28,56.30 L283.86,56.93 L285.44,57.57 L287.02,58.22 L288.60,58.87 L290.18,59.53 L291.76,60.19 L293.34,60.87 L294.92,61.54 L296.50,62.23 L298.08,62.92 L299.66,63.61 L301.24,64.32 L302.82,65.03 L304.40,65.74 L305.98,66.46 L307.56,67.19 L309.14,67.92 L310.72,68.66 L312.30,69.41 L313.88,70.16 L315.46,70.92 L317.04,71.69 L318.62,72.46 L320.20,73.24 L321.78,74.02 L323.36,74.81 L324.94,75.61 L326.52,76.41 L328.10,77.22 L329.68,78.04 L331.26,78.86 L332.84,79.69 L334.42,80.52 L336.00,81.36 L337.58,82.21 L339.16,83.06 L340.74,83.92 L342.32,84.79 L343.90,85.66 L345.48,86.54 L347.06,87.43 L348.64,88.32 L350.22,89.21 L351.80,90.12 L353.38,91.03 L354.96,91.94 L356.54,92.87 L358.12,93.79 L359.70,94.73 L361.28,95.67 L362.86,96.62 L364.44,97.57 L366.02,98.53 L367.60,99.50 L369.18,100.47 L370.76,101.45 L372.34,102.43 L373.92,103.43 L375.50,104.42 L377.08,105.43 L378.66,106.44 L380.24,107.45 L381.82,108.48 L383.40,109.51 L384.98,110.54 L386.56,111.58 L388.14,112.63 L389.72,113.69 L391.30,114.75 L392.88,115.81 L394.46,116.89 L396.04,117.96 L397.62,119.05 L399.20,120.14 L400.78,121.24 L402.36,122.34 L403.94,123.46 L405.52,124.57 L407.10,125.70 L408.68,126.82 L410.26,127.96 L411.84,129.10 L413.42,130.25 L415.00,131.41 L416.58,132.57 L418.16,133.73 L419.74,134.91 L421.32,136.09 L422.90,137.27 L424.48,138.46 L426.06,139.66 L427.64,140.87 L429.22,142.08 L430.80,143.30 L432.38,144.52 L433.96,145.75 L435.54,146.99 L437.12,148.23 L438.70,149.48 L440.28,150.73 L441.86,151.99 L443.44,153.26 L445.02,154.53 L446.60,155.81 L448.18,157.10 L449.76,158.39 L451.34,159.69 L452.92,161.00 L454.50,162.31 L456.08,163.63 L457.66,164.95 L459.24,166.28 L460.82,167.62 L462.40,168.96 L463.98,170.31 L465.56,171.67 L467.14,173.03 L468.72,174.40 L470.30,175.77 L471.88,177.15 L473.46,178.54 L475.04,179.93 L476.62,181.33 L478.20,182.73 L479.78,184.15 L481.36,185.56 L482.94,186.99 L484.52,188.42 L486.10,189.86 L487.68,191.30 L489.26,192.75 L490.84,194.21 L492.42,195.67 L494.00,197.14 L495.58,198.61 L497.16,200.09 L498.74,201.58 L500.32,203.07 L501.90,204.57 L503.48,206.08 L505.06,207.59 L506.64,209.11 L508.22,210.63 L509.80,212.17 L511.38,213.70 L512.96,215.25 L514.54,216.80 L516.12,218.35 L517.70,219.91 L519.28,221.48 L520.86,223.06 L522.44,224.64 L524.02,226.23 L525.60,227.82 L527.18,229.42 L528.76,231.03 L530.34,232.64 L531.92,234.26 L533.50,235.89 L535.08,237.52 L536.66,239.15 L538.24,240.80 L539.82,242.45 L541.40,244.11 L542.98,245.77 L544.56,247.44 L546.14,249.11 L547.72,250.80 L549.30,252.48 L550.88,254.18 L552.46,255.88 L554.04,257.58 L555.62,259.30 L557.20,261.02 L558.78,262.74 L560.36,264.47 L561.94,266.21 L563.52,267.96 L565.10,269.71 L566.68,271.47 L568.26,273.23 L569.84,275.00 L571.42,276.77 L573.00,278.56 L574.58,280.35 L576.16,282.14 L577.74,283.94 L579.32,285.75 L580.90,287.56 L582.48,289.38 L584.06,291.21 L585.64,293.04 L587.22,294.88 L588.80,296.72 L590.38,298.57 L591.96,300.43 L593.54,302.30 L595.12,304.17 L596.70,306.04 L598.28,307.92 L599.86,309.81 L601.44,311.71 L603.02,313.61 L604.60,315.52 L606.18,317.43 L607.76,319.35 L609.34,321.28 L610.92,323.21 L612.50,325.15 L614.08,327.10 L615.66,329.05 L617.24,331.01 L618.82,332.97 L620.40,334.94 L621.98,336.92 L623.56,338.90 L625.14,340.89 L626.72,342.88 L628.30,344.89 L629.88,346.89 L631.46,348.91 L633.04,350.93 L634.62,352.96 L636.20,354.99 L637.78,357.03 L639.36,359.07 L640.94,361.13 L642.52,363.18 L644.10,365.25 L645.68,367.32 L647.26,369.40 L648.84,371.48 L650.42,373.57 L652.00,375.67 L653.58,377.77 L655.16,379.88 L656.74,381.99 L658.32,384.11 L659.90,386.24 L661.48,388.37 L663.06,390.51 L664.64,392.66 L666.22,394.81 L667.80,396.97 L669.38,399.14 L670.96,401.31 L672.54,403.49 L674.12,405.67 L675.70,407.86 L677.28,410.06 L678.86,412.26 L680.44,414.47 L682.02,416.68 L683.60,418.90 L685.18,421.13 L686.76,423.37 L688.34,425.61 L689.92,427.85 L691.50,430.11 L693.08,432.36 L694.66,434.63 L696.24,436.90 L697.82,439.18 L699.40,441.46 L700.98,443.75 L702.56,446.05 L704.14,448.35 L705.72,450.66 L707.30,452.98 L708.88,455.30 L710.46,457.63 L712.04,459.96 L713.62,462.30 L715.20,464.65 L716.78,467.00 L718.36,469.36 L719.94,471.73 L721.52,474.10 L723.10,476.48 L724.68,478.86 L726.26,481.26 L727.84,483.65 L729.42,486.06 L731.00,488.47 L732.58,490.88 L734.16,493.30 L735.74,495.73 L737.32,498.17 L738.90,500.61 L740.48,503.06 L742.06,505.51 L743.64,507.97 L745.22,510.44 L746.80,512.91 L748.38,515.39 L749.96,517.87 L751.54,520.36 L753.12,522.86 L754.70,525.37 L756.28,527.88 L757.86,530.39 L759.44,532.91 L761.02,535.44 L762.60,537.98 L764.18,540.52 L765.76,543.07 L767.34,545.62 L768.92,548.18 L770.50,550.75 L772.08,553.32 L773.66,555.90 L775.24,558.49 L776.82,561.08 L778.40,563.68 L779.98,566.28 L781.56,568.89 L783.14,571.51 L784.72,574.13 L786.30,576.76 L787.88,579.40 L789.46,582.04 L791.04,584.69 L792.62,587.34 L794.20,590.00" fill="none" stroke="#000" stroke-width="3.0" stroke-dasharray="20.6 13" stroke-linecap="round"/><path d="M1254.50,586.43 L1255.28,586.11 L1256.05,585.77 L1256.83,585.43 L1257.60,585.08 L1258.38,584.72 L1259.15,584.35 L1259.93,583.97 L1260.71,583.59 L1261.48,583.19 L1262.26,582.79 L1263.03,582.37 L1263.81,581.95 L1264.58,581.52 L1265.36,581.08 L1266.13,580.62 L1266.91,580.16 L1267.69,579.69 L1268.46,579.21 L1269.24,578.72 L1270.01,578.22 L1270.79,577.71 L1271.56,577.19 L1272.34,576.66 L1273.12,576.12 L1273.89,575.57 L1274.67,575.02 L1275.44,574.44 L1276.22,573.86 L1276.99,573.27 L1277.77,572.67 L1278.55,572.06 L1279.32,571.44 L1280.10,570.80 L1280.87,570.16 L1281.65,569.51 L1282.42,568.84 L1283.20,568.17 L1283.98,567.48 L1284.75,566.78 L1285.53,566.07 L1286.30,565.35 L1287.08,564.62 L1287.85,563.88 L1288.63,563.13 L1289.40,562.36 L1290.18,561.59 L1290.96,560.80 L1291.73,560.01 L1292.51,559.20 L1293.28,558.38 L1294.06,557.54 L1294.83,556.70 L1295.61,555.85 L1296.39,554.98 L1297.16,554.10 L1297.94,553.21 L1298.71,552.31 L1299.49,551.40 L1300.26,550.48 L1301.04,549.54 L1301.82,548.59 L1302.59,547.63 L1303.37,546.66 L1304.14,545.68 L1304.92,544.68 L1305.69,543.68 L1306.47,542.66 L1307.25,541.63 L1308.02,540.59 L1308.80,539.53 L1309.57,538.47 L1310.35,537.39 L1311.12,536.30 L1311.90,535.20 L1312.67,534.08 L1313.45,532.96 L1314.23,531.82 L1315.00,530.67 L1315.78,529.50 L1316.55,528.33 L1317.33,527.14 L1318.10,525.94 L1318.88,524.73 L1319.66,523.51 L1320.43,522.28 L1321.21,521.03 L1321.98,519.77 L1322.76,518.50 L1323.53,517.22 L1324.31,515.92 L1325.09,514.61 L1325.86,513.29 L1326.64,511.96 L1327.41,510.62 L1328.19,509.26 L1328.96,507.89 L1329.74,506.51 L1330.52,505.12 L1331.29,503.72 L1332.07,502.30 L1332.84,500.87 L1333.62,499.43 L1334.39,497.98 L1335.17,496.51 L1335.94,495.04 L1336.72,493.55 L1337.50,492.05 L1338.27,490.53 L1339.05,489.01 L1339.82,487.47 L1340.60,485.93 L1341.37,484.36 L1342.15,482.79 L1342.93,481.21 L1343.70,479.61 L1344.48,478.00 L1345.25,476.39 L1346.03,474.75 L1346.80,473.11 L1347.58,471.46 L1348.36,469.79 L1349.13,468.11 L1349.91,466.42 L1350.68,464.72 L1351.46,463.01 L1352.23,461.28 L1353.01,459.55 L1353.79,457.80 L1354.56,456.04 L1355.34,454.27 L1356.11,452.49 L1356.89,450.70 L1357.66,448.89 L1358.44,447.08 L1359.21,445.25 L1359.99,443.41 L1360.77,441.56 L1361.54,439.70 L1362.32,437.83 L1363.09,435.95 L1363.87,434.06 L1364.64,432.16 L1365.42,430.24 L1366.20,428.32 L1366.97,426.38 L1367.75,424.43 L1368.52,422.48 L1369.30,420.51 L1370.07,418.53 L1370.85,416.54 L1371.63,414.54 L1372.40,412.53 L1373.18,410.51 L1373.95,408.48 L1374.73,406.44 L1375.50,404.39 L1376.28,402.33 L1377.06,400.26 L1377.83,398.18 L1378.61,396.09 L1379.38,393.99 L1380.16,391.88 L1380.93,389.76 L1381.71,387.64 L1382.48,385.50 L1383.26,383.35 L1384.04,381.19 L1384.81,379.03 L1385.59,376.85 L1386.36,374.67 L1387.14,372.47 L1387.91,370.27 L1388.69,368.06 L1389.47,365.84 L1390.24,363.61 L1391.02,361.37 L1391.79,359.12 L1392.57,356.87 L1393.34,354.60 L1394.12,352.33 L1394.90,350.05 L1395.67,347.76 L1396.45,345.46 L1397.22,343.16 L1398.00,340.85 L1398.77,338.53 L1399.55,336.20 L1400.33,333.86 L1401.10,331.52 L1401.88,329.17 L1402.65,326.81 L1403.43,324.44 L1404.20,322.07 L1404.98,319.69 L1405.75,317.30 L1406.53,314.91 L1407.31,312.51 L1408.08,310.10 L1408.86,307.69 L1409.63,305.27 L1410.41,302.84 L1411.18,300.41 L1411.96,297.97 L1412.74,295.52 L1413.51,293.07 L1414.29,290.61 L1415.06,288.15 L1415.84,285.68 L1416.61,283.21 L1417.39,280.73 L1418.17,278.24 L1418.94,275.75 L1419.72,273.26 L1420.49,270.76 L1421.27,268.25 L1422.04,265.74 L1422.82,263.23 L1423.60,260.71 L1424.37,258.19 L1425.15,255.66 L1425.92,253.13 L1426.70,250.59 L1427.47,248.05 L1428.25,245.51 L1429.02,242.96 L1429.80,240.41 L1430.58,237.85 L1431.35,235.30 L1432.13,232.74 L1432.90,230.17 L1433.68,227.61 L1434.45,225.04 L1435.23,222.47 L1436.01,219.89 L1436.78,217.31 L1437.56,214.74 L1438.33,212.15 L1439.11,209.57 L1439.88,206.99 L1440.66,204.40 L1441.44,201.81 L1442.21,199.22 L1442.99,196.63 L1443.76,194.04 L1444.54,191.45 L1445.31,188.85 L1446.09,186.26 L1446.87,183.67 L1447.64,181.07 L1448.42,178.48 L1449.19,175.88 L1449.97,173.29 L1450.74,170.69 L1451.52,168.10 L1452.29,165.50 L1453.07,162.91 L1453.85,160.32 L1454.62,157.72 L1455.40,155.13 L1456.17,152.54 L1456.95,149.96 L1457.72,147.37 L1458.50,144.79 L1459.28,142.20 L1460.05,139.62 L1460.83,137.05 L1461.60,134.47 L1462.38,131.90 L1463.15,129.33 L1463.93,126.76 L1464.71,124.20 L1465.48,121.64 L1466.26,119.08 L1467.03,116.53 L1467.81,113.98 L1468.58,111.43 L1469.36,108.89 L1470.14,106.35 L1470.91,103.82 L1471.69,101.29 L1472.46,98.77 L1473.24,96.25 L1474.01,93.74 L1474.79,91.23 L1475.56,88.73 L1476.34,86.23 L1477.12,83.74 L1477.89,81.26 L1478.67,78.78 L1479.44,76.31 L1480.22,73.84 L1480.99,71.38 L1481.77,68.93 L1482.55,66.49 L1483.32,64.05 L1484.10,61.62 L1484.87,59.20 L1485.65,56.79 L1486.42,54.38 L1487.20,51.99" fill="none" stroke="#000" stroke-width="2.4" stroke-linecap="round"/><line x1="210.1" y1="436" x2="266.3" y2="436" stroke="#000" stroke-width="3.0" stroke-dasharray="5.1 7.3" stroke-linecap="round"/><line x1="210.1" y1="481.8" x2="269.9" y2="481.8" stroke="#000" stroke-width="3.0" stroke-dasharray="20.6 12.5 0.01 12.5" stroke-linecap="round"/><line x1="210.1" y1="529.3" x2="269.9" y2="529.3" stroke="#000" stroke-width="3.0" stroke-linecap="round"/><line x1="210.1" y1="574.9" x2="264.5" y2="574.9" stroke="#000" stroke-width="3.0" stroke-dasharray="20.6 13" stroke-linecap="round"/><line x1="1079.5" y1="321.7" x2="1125.2" y2="321.7" stroke="#000" stroke-width="2.3"/>
<path d="M162.20,20.36 L169.10,32.64 L155.30,32.64 Z" fill="#FFC000" stroke="#000" stroke-width="1.3" stroke-linejoin="miter"/><path d="M225.40,38.86 L232.30,51.14 L218.50,51.14 Z" fill="#FFC000" stroke="#000" stroke-width="1.3" stroke-linejoin="miter"/><path d="M289.00,68.56 L295.90,80.84 L282.10,80.84 Z" fill="#FFC000" stroke="#000" stroke-width="1.3" stroke-linejoin="miter"/><path d="M351.50,87.86 L358.40,100.14 L344.60,100.14 Z" fill="#FFC000" stroke="#000" stroke-width="1.3" stroke-linejoin="miter"/><path d="M415.00,116.66 L421.90,128.94 L408.10,128.94 Z" fill="#FFC000" stroke="#000" stroke-width="1.3" stroke-linejoin="miter"/><path d="M477.30,160.56 L484.20,172.84 L470.40,172.84 Z" fill="#FFC000" stroke="#000" stroke-width="1.3" stroke-linejoin="miter"/><path d="M541.00,187.36 L547.90,199.64 L534.10,199.64 Z" fill="#FFC000" stroke="#000" stroke-width="1.3" stroke-linejoin="miter"/><path d="M605.30,254.26 L612.20,266.54 L598.40,266.54 Z" fill="#FFC000" stroke="#000" stroke-width="1.3" stroke-linejoin="miter"/><path d="M667.00,274.86 L673.90,287.14 L660.10,287.14 Z" fill="#FFC000" stroke="#000" stroke-width="1.3" stroke-linejoin="miter"/><path d="M730.80,390.86 L737.70,403.14 L723.90,403.14 Z" fill="#FFC000" stroke="#000" stroke-width="1.3" stroke-linejoin="miter"/><path d="M793.20,590.86 L800.10,603.14 L786.30,603.14 Z" fill="#FFC000" stroke="#000" stroke-width="1.3" stroke-linejoin="miter"/><path d="M162.20,19.30 L169.40,26.50 L162.20,33.70 L155.00,26.50 Z" fill="#FF99FF" stroke="#222" stroke-width="1.2"/><path d="M223.70,33.20 L230.90,40.40 L223.70,47.60 L216.50,40.40 Z" fill="#FF99FF" stroke="#222" stroke-width="1.2"/><path d="M289.00,55.40 L296.20,62.60 L289.00,69.80 L281.80,62.60 Z" fill="#FF99FF" stroke="#222" stroke-width="1.2"/><path d="M351.70,82.10 L358.90,89.30 L351.70,96.50 L344.50,89.30 Z" fill="#FF99FF" stroke="#222" stroke-width="1.2"/><path d="M414.90,111.00 L422.10,118.20 L414.90,125.40 L407.70,118.20 Z" fill="#FF99FF" stroke="#222" stroke-width="1.2"/><path d="M477.30,149.80 L484.50,157.00 L477.30,164.20 L470.10,157.00 Z" fill="#FF99FF" stroke="#222" stroke-width="1.2"/><path d="M539.50,168.30 L546.70,175.50 L539.50,182.70 L532.30,175.50 Z" fill="#FF99FF" stroke="#222" stroke-width="1.2"/><path d="M605.30,244.30 L612.50,251.50 L605.30,258.70 L598.10,251.50 Z" fill="#FF99FF" stroke="#222" stroke-width="1.2"/><path d="M667.10,241.60 L674.30,248.80 L667.10,256.00 L659.90,248.80 Z" fill="#FF99FF" stroke="#222" stroke-width="1.2"/><path d="M730.80,389.60 L738.00,396.80 L730.80,404.00 L723.60,396.80 Z" fill="#FF99FF" stroke="#222" stroke-width="1.2"/><path d="M793.20,582.90 L800.40,590.10 L793.20,597.30 L786.00,590.10 Z" fill="#FF99FF" stroke="#222" stroke-width="1.2"/><circle cx="161.50" cy="24.50" r="6.85" fill="#00FF00" stroke="#000" stroke-width="1.2"/><circle cx="223.60" cy="40.20" r="6.85" fill="#00FF00" stroke="#000" stroke-width="1.2"/><circle cx="287.00" cy="91.80" r="6.85" fill="#00FF00" stroke="#000" stroke-width="1.2"/><circle cx="349.80" cy="84.50" r="6.85" fill="#00FF00" stroke="#000" stroke-width="1.2"/><circle cx="413.60" cy="109.80" r="6.85" fill="#00FF00" stroke="#000" stroke-width="1.2"/><circle cx="539.50" cy="175.50" r="6.85" fill="#00FF00" stroke="#000" stroke-width="1.2"/><circle cx="603.30" cy="208.40" r="6.85" fill="#00FF00" stroke="#000" stroke-width="1.2"/><circle cx="665.40" cy="270.40" r="6.85" fill="#00FF00" stroke="#000" stroke-width="1.2"/><circle cx="729.30" cy="400.00" r="6.85" fill="#00FF00" stroke="#000" stroke-width="1.2"/><path d="M1249.70,585.40 L1256.70,592.40 L1249.70,599.40 L1242.70,592.40 Z" fill="#FFC000" stroke="#222" stroke-width="1.2"/><path d="M1418.20,266.20 L1425.20,273.20 L1418.20,280.20 L1411.20,273.20 Z" fill="#FFC000" stroke="#222" stroke-width="1.2"/><path d="M1437.60,246.00 L1444.60,253.00 L1437.60,260.00 L1430.60,253.00 Z" fill="#FFC000" stroke="#222" stroke-width="1.2"/><path d="M1451.10,177.10 L1458.10,184.10 L1451.10,191.10 L1444.10,184.10 Z" fill="#FFC000" stroke="#222" stroke-width="1.2"/><path d="M1461.20,151.40 L1468.20,158.40 L1461.20,165.40 L1454.20,158.40 Z" fill="#FFC000" stroke="#222" stroke-width="1.2"/><path d="M1470.70,107.50 L1477.70,114.50 L1470.70,121.50 L1463.70,114.50 Z" fill="#FFC000" stroke="#222" stroke-width="1.2"/><path d="M1478.00,75.50 L1485.00,82.50 L1478.00,89.50 L1471.00,82.50 Z" fill="#FFC000" stroke="#222" stroke-width="1.2"/><path d="M1483.50,57.90 L1490.50,64.90 L1483.50,71.90 L1476.50,64.90 Z" fill="#FFC000" stroke="#222" stroke-width="1.2"/><path d="M1489.00,28.50 L1496.00,35.50 L1489.00,42.50 L1482.00,35.50 Z" fill="#FFC000" stroke="#222" stroke-width="1.2"/><circle cx="1248.20" cy="583.10" r="6.80" fill="#FF99FF" stroke="#000" stroke-width="1.2"/><circle cx="1385.60" cy="387.20" r="6.80" fill="#FF99FF" stroke="#000" stroke-width="1.2"/><circle cx="1416.20" cy="238.40" r="6.80" fill="#FF99FF" stroke="#000" stroke-width="1.2"/><circle cx="1435.80" cy="241.80" r="6.80" fill="#FF99FF" stroke="#000" stroke-width="1.2"/><circle cx="1449.30" cy="164.70" r="6.80" fill="#FF99FF" stroke="#000" stroke-width="1.2"/><circle cx="1459.50" cy="146.90" r="6.80" fill="#FF99FF" stroke="#000" stroke-width="1.2"/><circle cx="1468.00" cy="107.70" r="6.80" fill="#FF99FF" stroke="#000" stroke-width="1.2"/><circle cx="1475.40" cy="78.40" r="6.80" fill="#FF99FF" stroke="#000" stroke-width="1.2"/><circle cx="1481.60" cy="50.70" r="6.80" fill="#FF99FF" stroke="#000" stroke-width="1.2"/><circle cx="1488.60" cy="32.20" r="6.80" fill="#FF99FF" stroke="#000" stroke-width="1.2"/><circle cx="1494.00" cy="15.80" r="6.80" fill="#FF99FF" stroke="#000" stroke-width="1.2"/><path d="M1387.70,389.65 L1394.50,401.75 L1380.90,401.75 Z" fill="#00FF00" stroke="#000" stroke-width="1.3" stroke-linejoin="miter"/><path d="M1417.80,259.45 L1424.60,271.55 L1411.00,271.55 Z" fill="#00FF00" stroke="#000" stroke-width="1.3" stroke-linejoin="miter"/><path d="M1436.80,196.55 L1443.60,208.65 L1430.00,208.65 Z" fill="#00FF00" stroke="#000" stroke-width="1.3" stroke-linejoin="miter"/><path d="M1450.70,164.75 L1457.50,176.85 L1443.90,176.85 Z" fill="#00FF00" stroke="#000" stroke-width="1.3" stroke-linejoin="miter"/><path d="M1470.00,98.25 L1476.80,110.35 L1463.20,110.35 Z" fill="#00FF00" stroke="#000" stroke-width="1.3" stroke-linejoin="miter"/><path d="M1478.10,71.65 L1484.90,83.75 L1471.30,83.75 Z" fill="#00FF00" stroke="#000" stroke-width="1.3" stroke-linejoin="miter"/><path d="M1483.90,82.45 L1490.70,94.55 L1477.10,94.55 Z" fill="#00FF00" stroke="#000" stroke-width="1.3" stroke-linejoin="miter"/><path d="M1490.30,29.35 L1497.10,41.45 L1483.50,41.45 Z" fill="#00FF00" stroke="#000" stroke-width="1.3" stroke-linejoin="miter"/><path d="M1496.10,12.15 L1502.90,24.25 L1489.30,24.25 Z" fill="#00FF00" stroke="#000" stroke-width="1.3" stroke-linejoin="miter"/><path d="M239.90,290.46 L246.80,302.74 L233.00,302.74 Z" fill="#FFC000" stroke="#000" stroke-width="1.3" stroke-linejoin="miter"/><path d="M239.90,336.90 L247.10,344.10 L239.90,351.30 L232.70,344.10 Z" fill="#FF99FF" stroke="#222" stroke-width="1.2"/><circle cx="239.00" cy="388.50" r="6.85" fill="#00FF00" stroke="#000" stroke-width="1.2"/><path d="M1102.30,109.60 L1109.30,116.60 L1102.30,123.60 L1095.30,116.60 Z" fill="#FFC000" stroke="#222" stroke-width="1.2"/><circle cx="1101.00" cy="184.70" r="7.10" fill="#FF99FF" stroke="#000" stroke-width="1.2"/><path d="M1102.20,248.05 L1109.00,260.15 L1095.40,260.15 Z" fill="#00FF00" stroke="#000" stroke-width="1.3" stroke-linejoin="miter"/>
<text x="127.80" y="37.60" font-size="35.7" text-anchor="end" font-family='"Liberation Sans", Arial, sans-serif' >1000</text><text x="127.80" y="156.78" font-size="35.7" text-anchor="end" font-family='"Liberation Sans", Arial, sans-serif' >100</text><text x="127.80" y="275.66" font-size="35.7" text-anchor="end" font-family='"Liberation Sans", Arial, sans-serif' >10</text><text x="127.80" y="394.54" font-size="35.7" text-anchor="end" font-family='"Liberation Sans", Arial, sans-serif' >1</text><text x="127.80" y="513.32" font-size="35.7" text-anchor="end" font-family='"Liberation Sans", Arial, sans-serif' >0.1</text><text x="127.80" y="631.30" font-size="35.7" text-anchor="end" font-family='"Liberation Sans", Arial, sans-serif' >0.01</text><text x="162.60" y="682.50" font-size="35.7" text-anchor="middle" font-family='"Liberation Sans", Arial, sans-serif' >0</text><text x="289.00" y="682.50" font-size="35.7" text-anchor="middle" font-family='"Liberation Sans", Arial, sans-serif' >20</text><text x="415.40" y="682.50" font-size="35.7" text-anchor="middle" font-family='"Liberation Sans", Arial, sans-serif' >40</text><text x="541.80" y="682.50" font-size="35.7" text-anchor="middle" font-family='"Liberation Sans", Arial, sans-serif' >60</text><text x="668.20" y="682.50" font-size="35.7" text-anchor="middle" font-family='"Liberation Sans", Arial, sans-serif' >80</text><text x="794.60" y="682.50" font-size="35.7" text-anchor="middle" font-family='"Liberation Sans", Arial, sans-serif' >100</text><text x="1008.00" y="27.70" font-size="33" text-anchor="end" font-family='"Liberation Sans", Arial, sans-serif' >1000</text><text x="1008.00" y="147.62" font-size="33" text-anchor="end" font-family='"Liberation Sans", Arial, sans-serif' >100</text><text x="1008.00" y="267.54" font-size="33" text-anchor="end" font-family='"Liberation Sans", Arial, sans-serif' >10</text><text x="1008.00" y="387.46" font-size="33" text-anchor="end" font-family='"Liberation Sans", Arial, sans-serif' >1</text><text x="1008.00" y="507.38" font-size="33" text-anchor="end" font-family='"Liberation Sans", Arial, sans-serif' >0,1</text><text x="1008.00" y="627.30" font-size="33" text-anchor="end" font-family='"Liberation Sans", Arial, sans-serif' >0,01</text><text x="1042.50" y="674.70" font-size="33" text-anchor="middle" font-family='"Liberation Sans", Arial, sans-serif' >0,01</text><text x="1262.90" y="674.70" font-size="33" text-anchor="middle" font-family='"Liberation Sans", Arial, sans-serif' >1</text><text x="1483.30" y="674.70" font-size="33" text-anchor="middle" font-family='"Liberation Sans", Arial, sans-serif' >100</text><text transform="translate(217.64,251.30) scale(0.8818,0.9792)" font-size="34.5" font-family='"Liberation Sans", Arial, sans-serif' font-style="italic" font-weight="bold">T</text><text transform="translate(244.48,251.20) scale(0.9121,1.0424)" font-size="34.5" font-family='"Liberation Sans", Arial, sans-serif'>(°C)</text><text transform="translate(277.66,308.10) scale(1.0224,1)" font-size="31" font-family='"Liberation Sans", Arial, sans-serif'>160</text><text transform="translate(277.66,353.90) scale(1.0224,1)" font-size="31" font-family='"Liberation Sans", Arial, sans-serif'>170</text><text transform="translate(277.66,399.60) scale(1.0224,1)" font-size="31" font-family='"Liberation Sans", Arial, sans-serif'>180</text><text transform="translate(277.70,446.90) scale(1.0006,1)" font-size="31" font-family='"Liberation Sans", Arial, sans-serif'>Hind (1960)</text><text transform="translate(278.31,492.20) scale(0.9930,1)" font-size="31" font-family='"Liberation Sans", Arial, sans-serif'>Lederer (1931)</text><text transform="translate(277.68,537.80) scale(1.0078,1)" font-size="31" font-family='"Liberation Sans", Arial, sans-serif'>Friedman &amp; Porter (1971)</text><text transform="translate(277.41,584.80) scale(0.9900,1)" font-size="31" font-family='"Liberation Sans", Arial, sans-serif'>Grunberg &amp; Nissan (1947)</text><text transform="translate(315.70,726.20) scale(1.0419,1)" font-size="33" font-family='"Liberation Sans", Arial, sans-serif'>Wax (wt-%)</text><text transform="translate(11.48,720.00) scale(0.9051,1)" font-size="53" font-family='"Liberation Sans", Arial, sans-serif'>(a)</text><text transform="translate(1090.37,60.10) scale(1.2167,1.0500)" font-size="33" font-family='"Liberation Serif", "Times New Roman", serif' font-style="italic">T</text><text transform="translate(1120.15,59.15) scale(0.9273,1.0065)" font-size="33" font-family='"Liberation Sans", Arial, sans-serif'>(°C)</text><text transform="translate(1251.47,69.90) scale(0.9655,1)" font-size="33" font-family='"Liberation Sans", Arial, sans-serif'>Slope = 3.4</text><text transform="translate(1128.32,125.80) scale(1.0918,1)" font-size="31" font-family='"Liberation Sans", Arial, sans-serif'>160</text><text transform="translate(1128.32,194.00) scale(1.0918,1)" font-size="31" font-family='"Liberation Sans", Arial, sans-serif'>170</text><text transform="translate(1128.42,263.70) scale(1.0898,1)" font-size="31" font-family='"Liberation Sans", Arial, sans-serif'>180</text><text transform="translate(1140.58,325.30) scale(1.0578,1)" font-size="31.5" font-family='"Liberation Sans", Arial, sans-serif'>Friedman &amp;</text><text transform="translate(1140.55,369.00) scale(1.0764,1)" font-size="31.5" font-family='"Liberation Sans", Arial, sans-serif'>Porter (1975)</text><text transform="translate(1247.00,719.00) scale(1.1677,1.0375)" font-size="35" font-family='"Liberation Serif", "Times New Roman", serif' font-style="italic">M</text><text transform="translate(1278.36,725.50) scale(1.0429,1.2200)" font-size="22" font-family='"Liberation Serif", "Times New Roman", serif' font-style="italic">w</text><text transform="translate(1301.82,718.60) scale(0.9892,1)" font-size="32" font-family='"Liberation Sans", Arial, sans-serif'>(kDa)</text><text transform="translate(910.02,720.00) scale(0.9932,1)" font-size="53" font-family='"Liberation Sans", Arial, sans-serif'>(b)</text><text transform="rotate(-90) translate(-615.83,32.50) scale(1.0386,1)" font-size="33" font-family='"Liberation Sans", Arial, sans-serif'>Scaled zero shear viscosity</text><text transform="rotate(-90) translate(-185.42,31.55) scale(1.2188,1.0560)" font-size="36" font-family='"Liberation Serif", "Times New Roman", serif' font-style="italic" stroke="#fff" stroke-width="0.7">η</text><text transform="rotate(-90) translate(-164.69,39.40) scale(1.1917,0.9692)" font-size="24" font-family='"Liberation Sans", Arial, sans-serif' font-style="italic">o</text><text transform="rotate(-90) translate(-149.14,36.00) scale(0.8800,1.1074)" font-size="36" font-family='"Liberation Sans", Arial, sans-serif' font-style="italic">/</text><text transform="rotate(-90) translate(-133.75,31.14) scale(1.1500,1.0320)" font-size="36" font-family='"Liberation Serif", "Times New Roman", serif' font-style="italic" stroke="#fff" stroke-width="0.7">η</text><text transform="rotate(-90) translate(-116.58,40.12) scale(1.0781,1.0556)" font-size="24" font-family='"Liberation Sans", Arial, sans-serif' font-style="italic">o,p</text><text transform="rotate(-90) translate(-72.66,32.30) scale(1.0310,1.1290)" font-size="33" font-family='"Liberation Sans", Arial, sans-serif'>(-)</text><text transform="rotate(-90) translate(-428.30,930.00) scale(0.9485,1.0318)" font-size="32" font-family='"Liberation Sans", Arial, sans-serif'>10</text><text transform="rotate(-90) translate(-392.34,918.70) scale(1.0400,1.0857)" font-size="21" font-family='"Liberation Sans", Arial, sans-serif'>3</text><text transform="rotate(-90) translate(-371.66,931.12) scale(1.0786,1.0067)" font-size="32" font-family='"Liberation Sans", Arial, sans-serif'>×</text><text transform="rotate(-90) translate(-340.00,928.83) scale(1.1000,0.9840)" font-size="36" font-family='"Liberation Serif", "Times New Roman", serif' font-style="italic" stroke="#fff" stroke-width="0.7">η</text><text transform="rotate(-90) translate(-321.40,937.10) scale(1.0000,1.1000)" font-size="22" font-family='"Liberation Sans", Arial, sans-serif'>o</text><text transform="rotate(-90) translate(-299.43,934.90) scale(1.0357,1.3167)" font-size="34" font-family='"Liberation Sans", Arial, sans-serif' font-style="italic">/</text><text transform="rotate(-90) translate(-284.16,928.44) scale(1.3625,0.9080)" font-size="36" font-family='"Liberation Serif", "Times New Roman", serif' font-style="italic" stroke="#fff" stroke-width="0.7">η</text><text transform="rotate(-90) translate(-259.10,936.11) scale(0.8500,1.0588)" font-size="22" font-family='"Liberation Sans", Arial, sans-serif' font-style="italic">o,p</text><text transform="rotate(-90) translate(-223.26,928.42) scale(0.9821,1.0400)" font-size="32" font-family='"Liberation Sans", Arial, sans-serif'>(-)</text>
</svg>
</body></html>
